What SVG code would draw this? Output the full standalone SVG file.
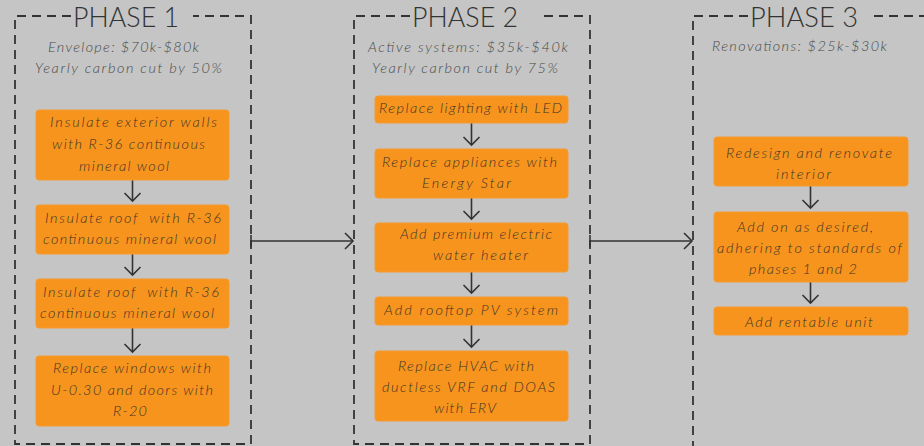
<svg xmlns="http://www.w3.org/2000/svg" width="924" height="446" viewBox="0 0 924 446">
<defs>
<style>
.bg{fill:#c4c5c4}
.frame{fill:none;stroke:#333;stroke-width:1.8;stroke-dasharray:9 6}
.title{font-family:Lato,"Liberation Sans",sans-serif;font-weight:300;font-size:28px;fill:#333}
.sub{font-family:Lato,"Liberation Sans",sans-serif;font-style:italic;font-weight:300;font-size:14.5px;fill:#4a4a4a}
.box{fill:#f7941d;stroke:#f59a30;stroke-width:1}
.bt{font-family:Lato,"Liberation Sans",sans-serif;font-style:italic;font-weight:300;font-size:14.5px;fill:#3f3429;white-space:pre}
.conn{fill:none;stroke:#333;stroke-width:1.6}
</style>
<marker id="arr" markerWidth="20" markerHeight="20" refX="10" refY="10" orient="auto" markerUnits="userSpaceOnUse">
<path d="M2,2 L10,10 L2,18" fill="none" stroke="#333" stroke-width="1.6"/>
</marker>
<marker id="bar" markerWidth="4" markerHeight="16" refX="2" refY="8" orient="auto" markerUnits="userSpaceOnUse">
<path d="M2,2 V14" stroke="#333" stroke-width="1.6"/>
</marker>
</defs>
<rect class="bg" x="0" y="0" width="924" height="446"/>

<g id="phase1">
<path class="frame" d="M71,16 H15 V444 H251 V16 H193"/>
<text class="title" x="73" y="27" textLength="106" lengthAdjust="spacingAndGlyphs">PHASE 1</text>
<text class="sub" x="48" y="52" textLength="151">Envelope: $70k-$80k</text>
<text class="sub" x="35" y="73" textLength="187">Yearly carbon cut by 50%</text>
</g>
<g id="phase2">
<path class="frame" d="M410,16 H354 V444 H590 V16 H538"/>
<text class="title" x="412" y="27" textLength="106" lengthAdjust="spacingAndGlyphs">PHASE 2</text>
<text class="sub" x="368" y="52" textLength="200">Active systems: $35k-$40k</text>
<text class="sub" x="372" y="73" textLength="186">Yearly carbon cut by 75%</text>
</g>
<g id="phase3">
<path class="frame" d="M748,16 H693 V446 M874,16 H924"/>
<text class="title" x="750" y="27" textLength="108" lengthAdjust="spacingAndGlyphs">PHASE 3</text>
<text class="sub" x="712" y="51" textLength="175">Renovations: $25k-$30k</text>
</g>

<g id="connectors">
<path class="conn" d="M132.5,180 V201" marker-end="url(#arr)"/>
<path class="conn" d="M132.5,254 V275" marker-end="url(#arr)"/>
<path class="conn" d="M132.5,328 V352" marker-end="url(#arr)"/>
<path class="conn" d="M471.5,123 V145" marker-end="url(#arr)"/>
<path class="conn" d="M471.5,198 V219" marker-end="url(#arr)"/>
<path class="conn" d="M471.5,272 V293" marker-end="url(#arr)"/>
<path class="conn" d="M471.5,325 V347" marker-end="url(#arr)"/>
<path class="conn" d="M810.5,186 V208" marker-end="url(#arr)"/>
<path class="conn" d="M810.5,282 V303" marker-end="url(#arr)"/>
<path class="conn" d="M251,241 H353" marker-start="url(#bar)" marker-end="url(#arr)"/>
<path class="conn" d="M590,241 H692" marker-start="url(#bar)" marker-end="url(#arr)"/>
</g>

<g id="n1">
<rect class="box" x="36" y="110" width="193" height="70" rx="3"/>
<text class="bt" x="50" y="127" textLength="167">Insulate exterior walls</text>
<text class="bt" x="52" y="149" textLength="153">with R-36 continuous</text>
<text class="bt" x="79" y="171" textLength="90">mineral wool</text>
</g>
<g id="n2">
<rect class="box" x="36" y="205" width="193" height="49" rx="3"/>
<text class="bt" x="45" y="223" textLength="176">Insulate roof  with R-36</text>
<text class="bt" x="43" y="244" textLength="173">continuous mineral wool</text>
</g>
<g id="n3">
<rect class="box" x="36" y="279" width="193" height="49" rx="3"/>
<text class="bt" x="43" y="297" textLength="176">Insulate roof  with R-36</text>
<text class="bt" x="40" y="318" textLength="174">continuous mineral wool</text>
</g>
<g id="n4">
<rect class="box" x="36" y="356" width="193" height="70" rx="3"/>
<text class="bt" x="53" y="373" textLength="158">Replace windows with</text>
<text class="bt" x="51" y="395" textLength="162">U-0.30 and doors with</text>
<text class="bt" x="113" y="416" textLength="34">R-20</text>
</g>

<g id="n5">
<rect class="box" x="375" y="96" width="193" height="27" rx="3"/>
<text class="bt" x="379" y="113" textLength="183">Replace lighting with LED</text>
</g>
<g id="n6">
<rect class="box" x="375" y="149" width="193" height="49" rx="3"/>
<text class="bt" x="382" y="167" textLength="175">Replace appliances with</text>
<text class="bt" x="422" y="188" textLength="89">Energy Star</text>
</g>
<g id="n7">
<rect class="box" x="375" y="223" width="193" height="49" rx="3"/>
<text class="bt" x="400" y="239" textLength="152">Add premium electric</text>
<text class="bt" x="433" y="260" textLength="95">water heater</text>
</g>
<g id="n8">
<rect class="box" x="375" y="297" width="193" height="28" rx="3"/>
<text class="bt" x="384" y="315" textLength="174">Add rooftop PV system</text>
</g>
<g id="n9">
<rect class="box" x="375" y="351" width="193" height="70" rx="3"/>
<text class="bt" x="398" y="371" textLength="136">Replace HVAC with</text>
<text class="bt" x="382" y="392" textLength="173">ductless VRF and DOAS</text>
<text class="bt" x="434" y="413" textLength="62">with ERV</text>
</g>

<g id="n10">
<rect class="box" x="714" y="137" width="194" height="49" rx="3"/>
<text class="bt" x="726" y="158" textLength="166">Redesign and renovate</text>
<text class="bt" x="776" y="179" textLength="55">interior</text>
</g>
<g id="n11">
<rect class="box" x="714" y="212" width="194" height="70" rx="3"/>
<text class="bt" x="737" y="232" textLength="136">Add on as desired,</text>
<text class="bt" x="717" y="253" textLength="185">adhering to standards of</text>
<text class="bt" x="749" y="274" textLength="108">phases 1 and 2</text>
</g>
<g id="n12">
<rect class="box" x="714" y="307" width="194" height="28" rx="3"/>
<text class="bt" x="745" y="327" textLength="128">Add rentable unit</text>
</g>
</svg>
